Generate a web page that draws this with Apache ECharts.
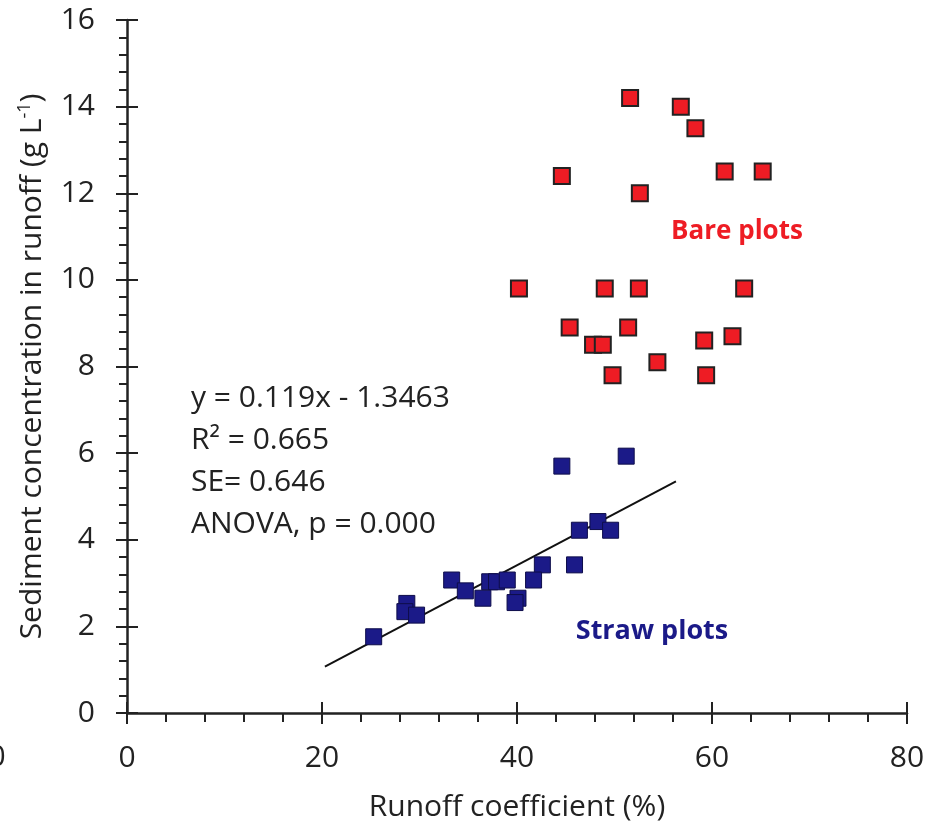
<!DOCTYPE html>
<html>
<head>
<meta charset="utf-8">
<script src="https://cdn.jsdelivr.net/npm/echarts@6/dist/echarts.min.js"></script>
<style>
  html, body { margin: 0; padding: 0; background: #fff; }
  #chart { width: 933px; height: 827px; }
</style>
</head>
<body>
<div id="chart"></div>
<script>
// 裸地小区 (red)
const barePlots = [
  [51.6, 14.2], [56.8, 14.0], [58.3, 13.5], [44.6, 12.4], [52.6, 12.0],
  [61.3, 12.5], [65.2, 12.5], [40.2, 9.8], [49.0, 9.8], [52.5, 9.8],
  [63.3, 9.8], [45.4, 8.9], [51.4, 8.9], [47.8, 8.5], [48.8, 8.5],
  [54.4, 8.1], [49.8, 7.8], [59.2, 8.6], [62.1, 8.7], [59.4, 7.8]
];
// 秸秆覆盖小区 (blue)
const strawPlots = [
  [44.6, 5.7], [51.2, 5.93], [46.4, 4.22], [48.3, 4.42], [49.6, 4.22],
  [45.9, 3.42], [42.6, 3.42], [41.7, 3.07], [33.3, 3.07], [34.7, 2.82],
  [37.2, 3.03], [37.9, 3.03], [39.0, 3.07], [36.5, 2.65], [40.1, 2.65],
  [39.8, 2.55], [28.7, 2.53], [28.5, 2.34], [29.7, 2.26], [25.3, 1.76]
];
// 回归线端点
const trendLine = [[20.3, 1.07], [56.3, 5.35]];
const xRange = { min: 0, max: 80, step: 20 };
const yRange = { min: 0, max: 16, step: 2 };
const statsLines = ['y = 0.119x - 1.3463', 'R² = 0.665', 'SE= 0.646', 'ANOVA, p = 0.000'];

const FONT = "'Open Sans', sans-serif";

let myChart = echarts.init(document.getElementById('chart'));
let option = {
  backgroundColor: '#fff',
  animation: false,
  textStyle: { fontFamily: FONT },
  grid: { left: 127, right: 26, top: 20, bottom: 114, containLabel: false },
  xAxis: [
    {
      type: 'value',
      min: xRange.min, max: xRange.max, interval: xRange.step,
      position: 'bottom',
      name: 'Runoff coefficient (%)',
      nameLocation: 'middle',
      nameGap: 79,
      nameTextStyle: { fontFamily: FONT, fontSize: 30, color: '#222' },
      axisLine: { onZero: false, lineStyle: { color: '#222', width: 2.5 } },
      // 主刻度（向外）
      axisTick: { show: true, inside: false, length: 11, lineStyle: { color: '#222', width: 2 } },
      minorTick: { show: true, splitNumber: 5, length: 9, lineStyle: { color: '#222', width: 2 } },
      axisLabel: { fontFamily: FONT, fontSize: 30, color: '#222', margin: 30 },
      splitLine: { show: false }
    },
    {
      // 主刻度（向内）
      type: 'value',
      min: xRange.min, max: xRange.max, interval: xRange.step,
      position: 'bottom',
      axisLine: { show: false },
      axisTick: { show: true, inside: true, length: 11, lineStyle: { color: '#222', width: 2 } },
      axisLabel: { show: false },
      splitLine: { show: false }
    }
  ],
  yAxis: [
    {
      type: 'value',
      min: yRange.min, max: yRange.max, interval: yRange.step,
      position: 'left',
      name: 'Sediment concentration in runoff (g L{sup|-1})',
      nameLocation: 'middle',
      nameGap: 79,
      nameRotate: 90,
      nameTextStyle: {
        fontFamily: FONT, fontSize: 30, color: '#222',
        rich: {
          sup: { fontFamily: FONT, fontSize: 18, color: '#222', padding: [0, 0, 14, 0] }
        }
      },
      axisLine: { onZero: false, lineStyle: { color: '#222', width: 2.5 } },
      axisTick: { show: true, inside: false, length: 11, lineStyle: { color: '#222', width: 2 } },
      minorTick: { show: true, splitNumber: 5, length: 8, lineStyle: { color: '#222', width: 2 } },
      axisLabel: { fontFamily: FONT, fontSize: 30, color: '#222', margin: 32 },
      splitLine: { show: false }
    },
    {
      type: 'value',
      min: yRange.min, max: yRange.max, interval: yRange.step,
      position: 'left',
      axisLine: { show: false },
      axisTick: { show: true, inside: true, length: 11, lineStyle: { color: '#222', width: 2 } },
      axisLabel: { show: false },
      splitLine: { show: false }
    }
  ],
  graphic: [
    {
      type: 'text', left: 191, top: 377,
      style: { text: statsLines.join('\n'), font: '30px ' + FONT, fill: '#222', lineHeight: 42 }
    },
    {
      type: 'text', x: 737, y: 232,
      style: { text: 'Bare plots', font: 'bold 26px ' + FONT, fill: '#ee1c24', align: 'center', verticalAlign: 'middle' }
    },
    {
      type: 'text', x: 652, y: 631,
      style: { text: 'Straw plots', font: 'bold 27px ' + FONT, fill: '#1b1a88', align: 'center', verticalAlign: 'middle' }
    },
    {
      // 图片左侧被裁掉的标签
      type: 'text', x: -3, y: 757,
      style: { text: '0', font: '30px ' + FONT, fill: '#222', align: 'center', verticalAlign: 'middle' }
    }
  ],
  series: [
    {
      name: 'trend',
      type: 'line',
      data: trendLine,
      symbol: 'none',
      lineStyle: { color: '#111', width: 2 },
      z: 2
    },
    {
      name: 'Straw plots',
      type: 'scatter',
      data: strawPlots,
      symbol: 'rect',
      symbolSize: 16,
      itemStyle: { color: '#1b1a88', borderColor: '#0e0d4a', borderWidth: 1, opacity: 1 },
      z: 3
    },
    {
      name: 'Bare plots',
      type: 'scatter',
      data: barePlots,
      symbol: 'rect',
      symbolSize: 16,
      itemStyle: { color: '#ee1c24', borderColor: '#222', borderWidth: 2, opacity: 1 },
      z: 3
    }
  ]
};
myChart.setOption(option);
window.addEventListener('resize', function() {
  myChart.resize();
});
</script>
</body>
</html>
